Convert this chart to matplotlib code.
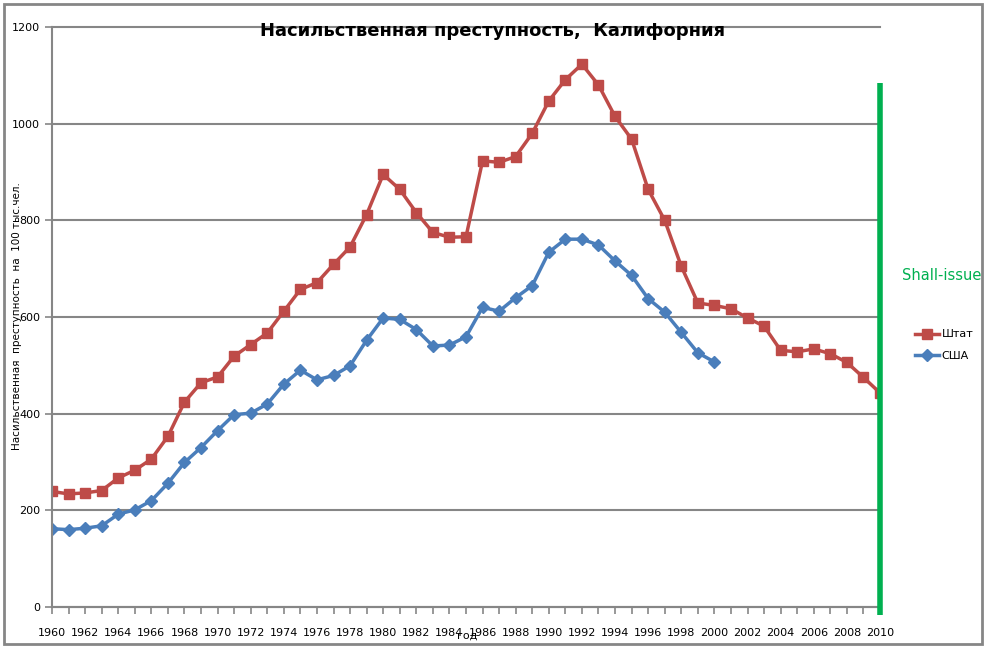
import matplotlib.pyplot as plt
from matplotlib.patches import Rectangle

years = list(range(1960, 2011))
state = [239, 234, 236, 241, 267, 283, 306, 353, 424, 464,
         476, 519, 543, 567, 612, 657, 671, 709, 745, 812,
         895, 864, 816, 775, 765, 766, 923, 920, 932, 980,
         1047, 1091, 1123, 1080, 1015, 968, 864, 800, 705, 629,
         624, 617, 598, 581, 531, 528, 534, 524, 506, 475, 443]
usa_years = list(range(1960, 2001))
usa = [162, 160, 163, 168, 192, 201, 220, 256, 299, 330,
       365, 398, 401, 420, 461, 490, 470, 479, 499, 552,
       598, 595, 574, 540, 542, 559, 620, 612, 640, 665,
       734, 761, 761, 749, 716, 686, 638, 610, 568, 526, 507]

shall_issue_year = 2010
shall_issue_top = 1084

fig = plt.figure(figsize=(9.87, 6.48), dpi=100)
ax = fig.add_axes([52/987, 1-607/648, (880-52)/987, (607-27)/648])

gray = "#868686"
ax.plot(years, state, color="#BE4B48", lw=2.5, marker="s", ms=7.5, label="Штат")
ax.plot(usa_years, usa, color="#4A7EBB", lw=2.5, marker="D", ms=6, label="США")
ax.plot([shall_issue_year, shall_issue_year], [-17, shall_issue_top],
        color="#00B050", lw=4, clip_on=False, solid_capstyle="butt", zorder=5)

ax.set_xlim(1960, 2010)
ax.set_ylim(0, 1200)
ax.set_yticks(range(0, 1201, 200))
ax.set_xticks(range(1960, 2011, 2))
ax.set_xticks(range(1960, 2011), minor=True)
ax.grid(axis="y", color=gray, lw=1.5)
for gl in ax.get_ygridlines():
    gl.set_clip_on(False)
ax.set_axisbelow(True)
for s in ["top", "right"]:
    ax.spines[s].set_visible(False)
for s in ["left", "bottom"]:
    ax.spines[s].set_color(gray)
    ax.spines[s].set_linewidth(1.5)
ax.tick_params(axis="both", colors=gray, width=1.2, length=5, labelsize=8, labelcolor="black")
ax.tick_params(axis="x", which="minor", colors=gray, width=1.2, length=5)
ax.tick_params(axis="x", pad=10)

fig.text(493/987, 1-31/648, "Насильственная преступность,  Калифорния",
         ha="center", va="center", fontsize=13, fontweight="bold")
fig.text(17/987, 1-316/648, "Насильственная  преступность  на  100 тыс.чел.",
         rotation=90, ha="center", va="center", fontsize=7.5)
fig.text(467/987, 1-636/648, "год", ha="center", va="center", fontsize=8)
fig.text(942/987, 1-275/648, "Shall-issue", ha="center", va="center",
         fontsize=10.5, color="#00B050")

fig.legend(loc="center left", bbox_to_anchor=(905/987, 1-345/648), frameon=False,
           fontsize=8, handlelength=2.2, handletextpad=0.2, labelspacing=1.0)

fig.patches.append(Rectangle((4/987, 4/648), 978/987, 640/648, transform=fig.transFigure,
                             fill=False, edgecolor=gray, lw=2))

fig.savefig("out.png", dpi=100)
